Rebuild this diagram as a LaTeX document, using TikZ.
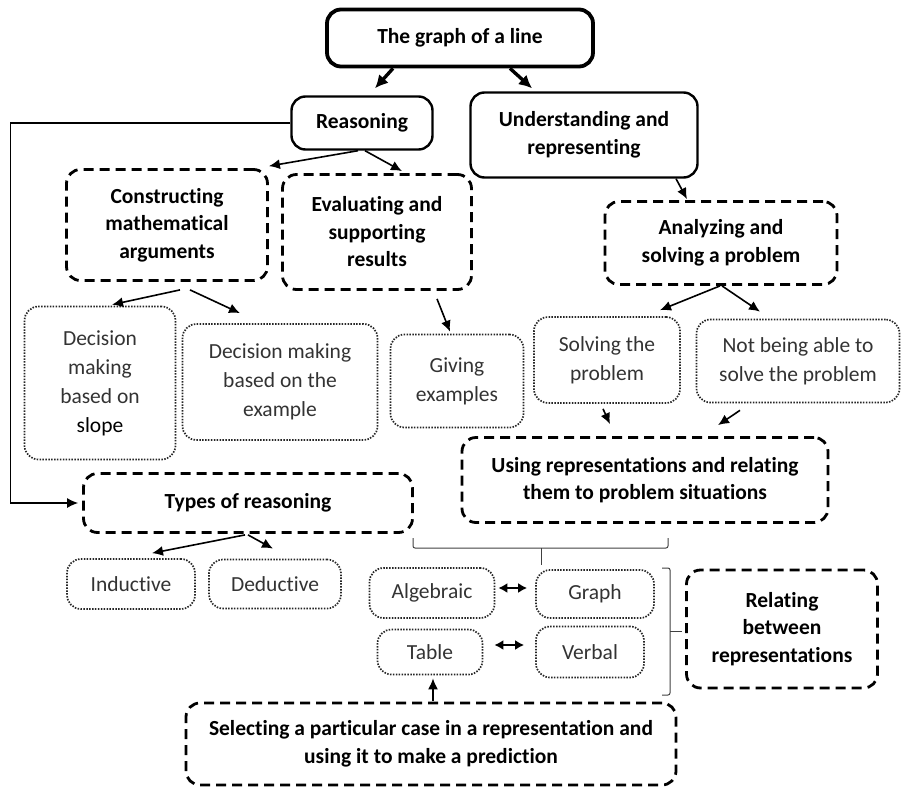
\documentclass[tikz,border=0pt]{standalone}
\usepackage{fontspec}
\setmainfont{Carlito}[Ligatures={NoCommon,NoRare}]
\usetikzlibrary{arrows.meta}
\begin{document}
\begin{tikzpicture}[x=1pt,y=-1pt,
  base/.style={rounded corners=14pt, align=center, inner sep=0pt},
  topbox/.style={base, draw, line width=3.8pt, font=\bfseries\fontsize{21.5}{27}\selectfont},
  solidbox/.style={base, draw, line width=2.4pt, font=\bfseries\fontsize{21.5}{28}\selectfont},
  dashbox/.style={base, draw, line width=2.8pt, dash pattern=on 10pt off 6pt, font=\bfseries\fontsize{21.5}{27.5}\selectfont},
  dotbox/.style={base, draw=black!85, line width=1.7pt, dash pattern=on 1.5pt off 1.4pt, text=black!80, font=\fontsize{21.5}{29}\selectfont},
  arr/.style={-{Latex[length=11pt,width=10pt]}, line width=1.6pt},
  bigarr/.style={-{Latex[length=13pt,width=13pt]}, line width=3.4pt},
  dblarr/.style={{Latex[length=9pt,width=10pt]}-{Latex[length=9pt,width=10pt]}, line width=2.2pt},
  thinline/.style={line width=1pt, draw=black!75},
]
\useasboundingbox (0,0) rectangle (908,790);

% nodes
\node[topbox, minimum width=266pt, minimum height=57pt] (top) at (460,38) {The graph of a line};
\node[solidbox, minimum width=141pt, minimum height=53pt] (reason) at (362,123) {Reasoning};
\node[solidbox, minimum width=227pt, minimum height=85pt] (understand) at (584,135) {Understanding and\\representing};
\node[dashbox, minimum width=201pt, minimum height=111pt] (construct) at (167,225) {Constructing\\mathematical\\arguments};
\node[dashbox, minimum width=189pt, minimum height=115pt] (evaluate) at (377,232) {Evaluating and\\supporting\\results};
\node[dashbox, minimum width=232pt, minimum height=83pt] (analyze) at (721,243) {Analyzing and\\solving a problem};
\node[dotbox, minimum width=151pt, minimum height=153pt] (slope) at (100,383) {Decision\\making\\based on\\{\color{black}slope}};
\node[dotbox, minimum width=195pt, minimum height=116pt] (exnode) at (280,382) {Decision making\\based on the\\example};
\node[dotbox, minimum width=133pt, minimum height=93pt] (giving) at (457,381) {Giving\\examples};
\node[dotbox, minimum width=146pt, minimum height=86pt] (solving) at (607,360) {Solving the\\problem};
\node[dotbox, minimum width=203pt, minimum height=83pt] (notable) at (798,361) {Not being able to\\solve the problem};
\node[dashbox, minimum width=366pt, minimum height=85pt] (using) at (645,480) {Using representations and relating\\them to problem situations};
\node[dashbox, minimum width=329pt, minimum height=59pt] (types) at (248,503) {Types of reasoning};
\node[dotbox, minimum width=128pt, minimum height=50pt] (inductive) at (131,584) {Inductive};
\node[dotbox, minimum width=132pt, minimum height=49pt] (deductive) at (275,584) {Deductive};
\node[dotbox, minimum width=125pt, minimum height=50pt] (alg) at (432,593) {Algebraic};
\node[dotbox, minimum width=118pt, minimum height=48pt] (graph) at (595,594) {Graph};
\node[dotbox, minimum width=105pt, minimum height=45pt] (table) at (430,652) {Table};
\node[dotbox, minimum width=108pt, minimum height=51pt] (verbal) at (590,652) {Verbal};
\node[dashbox, minimum width=191pt, minimum height=118pt] (relating) at (782,629) {Relating\\between\\representations};
\node[dashbox, minimum width=490pt, minimum height=82pt] (select) at (431,744) {Selecting a particular case in a representation and\\using it to make a prediction};

% connectors
\draw[bigarr] ([xshift=-67pt]top.south) -- ([xshift=13pt,yshift=7pt]reason.north);
\draw[bigarr] ([xshift=50pt]top.south) -- ([xshift=-52pt,yshift=3pt]understand.north);
\draw[arr] ([xshift=-4pt]reason.south) -- ([yshift=2pt]construct.north east);
\draw[arr] ([xshift=3pt]reason.south) -- ([xshift=25pt,yshift=2pt]evaluate.north);
\draw[arr] ([xshift=92pt]understand.south) -- ([xshift=-34pt,yshift=1pt]analyze.north);
\draw[arr] ([xshift=13pt,yshift=-8pt]construct.south) -- ([xshift=12pt,yshift=1pt]slope.north);
\draw[arr] ([xshift=23pt,yshift=-8pt]construct.south) -- ([xshift=-40pt,yshift=10pt]exnode.north);
\draw[arr] ([xshift=60pt,yshift=-8pt]evaluate.south) -- ([xshift=-7pt,yshift=2pt]giving.north);
\draw[arr] ([xshift=-1pt]analyze.south) -- ([xshift=53pt,yshift=6pt]solving.north);
\draw[arr] ([xshift=1pt]analyze.south) -- ([xshift=-38pt,yshift=7pt]notable.north);
\draw[arr] ([xshift=-4pt,yshift=-5pt]solving.south) -- ([xshift=-35pt,yshift=12pt]using.north);
\draw[arr] ([xshift=-58pt,yshift=-7pt]notable.south) -- ([xshift=73pt,yshift=11pt]using.north);
\draw[arr, line width=1.2pt] (reason.west) -- ++(-280pt,0) |- ([xshift=-4pt]types.west);
\draw[arr] ([xshift=-3pt,yshift=-1pt]types.south) -- ([xshift=21pt,yshift=5pt]inductive.north);
\draw[arr] ([yshift=-1pt]types.south) -- ([xshift=-2pt,yshift=10pt]deductive.north);
\draw[dblarr] ([xshift=3pt,yshift=5pt]alg.east) -- ([xshift=-8pt,yshift=6pt]graph.west);
\draw[dblarr] ([xshift=11pt,yshift=7pt]table.east) -- ([xshift=-11pt,yshift=7pt]verbal.west);
\draw[arr] ([xshift=2pt,yshift=1pt]select.north) -- ([xshift=3pt,yshift=-3pt]table.south);

% brackets
\draw[thinline, rounded corners=2pt] (413,538) -- (413,548) -- (668,548) -- (668,538);
\draw[thinline] (541,548) -- (541,565);
\draw[thinline, rounded corners=2pt] (662,568) -- (670,568) -- (670,695) -- (662,695);
\draw[thinline] (670,631) -- (682,631);
\end{tikzpicture}
\end{document}
